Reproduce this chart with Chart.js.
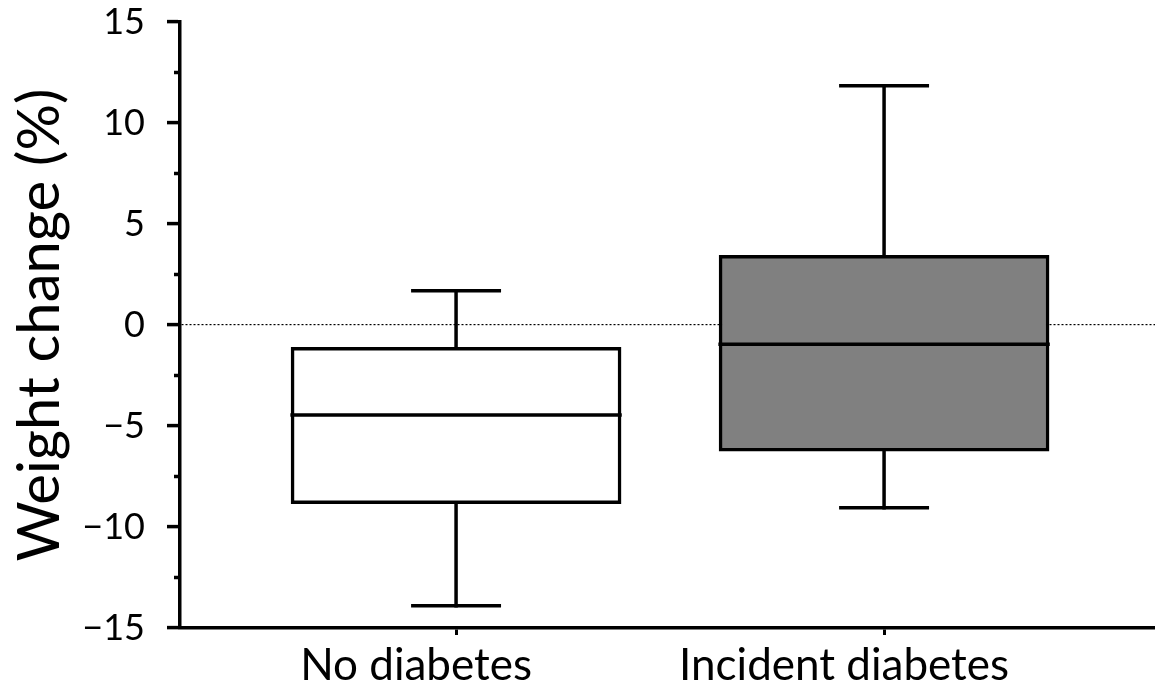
<!DOCTYPE html>
<html>
<head>
<meta charset="utf-8">
<script src="https://cdn.jsdelivr.net/npm/chart.js@4/dist/chart.umd.min.js"></script>
<style>
  html, body { margin: 0; padding: 0; background: #fff; }
  #wrap { width: 1155px; height: 691px; }
</style>
</head>
<body>
<div id="wrap"><canvas id="box-chart"></canvas></div>
<script>
var categories = ["No diabetes", "Incident diabetes"];
var whiskerLow = [-13.9, -9.05];
var q1 = [-8.85, -6.25];
var median = [-4.45, -0.95];
var q3 = [-1.1, 3.45];
var whiskerHigh = [1.7, 11.85];
var boxColors = ["#ffffff", "#808080"];
var yTicks = [-15, -10, -5, 0, 5, 10, 15];

var boxHalf = 0.383;
var capHalf = 0.101;

var boxData = [];
var whiskerData = [];
var capData = [];
var medianData = [];
for (var i = 0; i < categories.length; i++) {
  var x = i + 1;
  boxData.push({ x: x, y: [q1[i], q3[i]] });
  whiskerData.push({ x: x, y: q3[i] }, { x: x, y: whiskerHigh[i] }, { x: x, y: null });
  whiskerData.push({ x: x, y: q1[i] }, { x: x, y: whiskerLow[i] }, { x: x, y: null });
  capData.push({ x: x - capHalf, y: whiskerHigh[i] }, { x: x + capHalf, y: whiskerHigh[i] }, { x: x, y: null });
  capData.push({ x: x - capHalf, y: whiskerLow[i] }, { x: x + capHalf, y: whiskerLow[i] }, { x: x, y: null });
  medianData.push({ x: x - boxHalf, y: median[i] }, { x: x + boxHalf, y: median[i] }, { x: x, y: null });
}

function segLine(data) {
  return {
    type: "scatter",
    data: data,
    showLine: true,
    spanGaps: false,
    borderColor: "#000",
    borderWidth: 3.5,
    borderCapStyle: "square",
    pointRadius: 0,
    order: 0
  };
}

function noEdgePad(scale) {
  scale.paddingTop = 0;
  scale.paddingBottom = 0;
}

Chart.defaults.font.family = "Lato";
Chart.defaults.color = "#000";

var ctx = document.getElementById("box-chart");
var chart = new Chart(ctx, {
  data: {
    datasets: [
      {
        type: "bar",
        data: boxData,
        backgroundColor: boxColors,
        borderColor: "#000",
        borderWidth: 3.5,
        borderSkipped: false,
        barThickness: 330,
        order: 1
      },
      segLine(whiskerData),
      segLine(capData),
      segLine(medianData)
    ]
  },
  options: {
    responsive: true,
    maintainAspectRatio: false,
    animation: false,
    layout: { padding: { top: 22, right: 0, left: 0, bottom: 0 } },
    plugins: { legend: { display: false }, tooltip: { enabled: false } },
    scales: {
      x: {
        type: "linear",
        offset: false,
        min: 0.355,
        max: 2.633,
        afterBuildTicks: function (scale) {
          scale.ticks = categories.map(function (c, i) { return { value: i + 1 }; });
        },
        afterFit: function (scale) { scale.height = 63; },
        ticks: {
          font: { size: 44 },
          padding: 4,
          labelOffset: -40,
          callback: function (v) { return categories[v - 1]; }
        },
        grid: { offset: false, drawOnChartArea: false, tickLength: 7, tickWidth: 3, tickColor: "#000" },
        border: { color: "#000", width: 3.5 }
      },
      y: {
        min: -15,
        max: 15,
        afterBuildTicks: function (scale) {
          scale.ticks = yTicks.map(function (v) { return { value: v }; });
        },
        afterFit: function (scale) { scale.width = 180; noEdgePad(scale); },
        ticks: {
          font: { size: 36 },
          padding: 22,
          callback: function (v) { return v < 0 ? "\u2212" + Math.abs(v) : String(v); }
        },
        grid: {
          color: function (c) { return c.tick && c.tick.value === 0 ? "#000" : "rgba(0,0,0,0)"; },
          lineWidth: 1.2,
          tickLength: 13,
          tickWidth: 3.5,
          tickColor: "#000"
        },
        border: { color: "#000", width: 3.5, dash: [2, 2] },
        title: {
          display: true,
          text: "Weight change (%)",
          font: { size: 58 },
          padding: { top: 5, bottom: 0 }
        }
      },
      yMinor: {
        position: "left",
        min: -15,
        max: 15,
        weight: -1,
        afterBuildTicks: function (scale) {
          var t = [];
          for (var k = 0; k < yTicks.length - 1; k++) t.push({ value: (yTicks[k] + yTicks[k + 1]) / 2 });
          scale.ticks = t;
        },
        afterFit: function (scale) { scale.width = 0; noEdgePad(scale); },
        ticks: { display: false },
        grid: { drawOnChartArea: false, tickLength: 6, tickWidth: 3.5, tickColor: "#000" },
        border: { display: false }
      }
    }
  }
});
</script>
</body>
</html>
